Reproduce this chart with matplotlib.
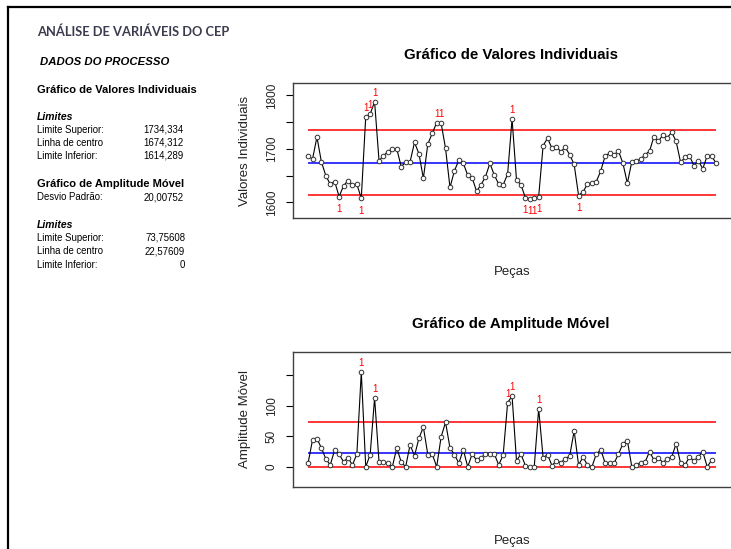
import numpy as np
import matplotlib
matplotlib.use('Agg')
import matplotlib.pyplot as plt
from matplotlib.lines import Line2D

plt.rcParams['font.family'] = ['Liberation Sans', 'DejaVu Sans']

# individual values (93 pieces)
valores = [1687, 1681, 1722, 1676, 1650, 1634, 1639, 1611, 1631, 1641,
           1633, 1634, 1608, 1760, 1765, 1788, 1678, 1687, 1695, 1700,
           1700, 1667, 1675, 1676, 1712, 1691, 1645, 1709, 1729, 1749,
           1748, 1701, 1628, 1659, 1679, 1673, 1651, 1646, 1621, 1633,
           1648, 1673, 1651, 1634, 1633, 1653, 1756, 1642, 1633, 1609,
           1607, 1608, 1611, 1706, 1720, 1701, 1704, 1695, 1703, 1689,
           1671, 1613, 1620, 1634, 1637, 1639, 1659, 1687, 1692, 1689,
           1696, 1673, 1636, 1676, 1677, 1681, 1689, 1696, 1723, 1714,
           1726, 1721, 1731, 1714, 1675, 1684, 1687, 1669, 1678, 1663,
           1687, 1687, 1673]

# moving ranges (92 values)
amplitudes = [6, 44, 46, 31, 13, 3, 28, 21, 8, 15, 3, 21, 155,
              0, 20, 113, 8, 8, 6, 0,
              31, 8, 0, 36, 18, 47, 65, 20, 21, 0,
              49, 73, 31, 20, 6, 28, 0, 21, 11, 15,
              21, 21, 21, 3, 20,
              105, 116, 10, 21, 2, 0, 0, 95,
              15, 20, 2, 10, 7, 13, 18,
              59, 3, 16, 3, 0, 21, 28, 6, 6, 6,
              21, 38, 43, 0, 3, 7, 8, 25, 11, 15,
              7, 13, 16, 38, 6, 3, 16, 10, 16, 25, 0, 11]

lsc_i, lc_i, lic_i = 1734.334, 1674.312, 1614.289
lsc_mr, lc_mr, lic_mr = 73.75608, 22.57609, 0

W, H = 731, 549
fig = plt.figure(figsize=(W / 100, H / 100), dpi=100)


def fx(x):
    return x / W


def fy(y):
    return 1 - y / H


# frame lines of the report
fig.add_artist(Line2D([fx(8), fx(8)], [fy(7), 0], color='black', lw=1.6))
fig.add_artist(Line2D([fx(8), 1], [fy(7), fy(7)], color='black', lw=1.6))

# left text panel
fig.text(fx(37), fy(32), 'ANÁLISE DE VARIÁVEIS DO CEP', fontsize=9.3,
         fontweight='bold', color='#3c3c50', va='center', family='Lato')
fig.text(fx(40), fy(62), 'DADOS DO PROCESSO', fontsize=8.2, fontweight='bold',
         style='italic', va='center')
fig.text(fx(37), fy(90), 'Gráfico de Valores Individuais', fontsize=8,
         fontweight='bold', va='center')
fig.text(fx(37), fy(117), 'Limites', fontsize=7.5, fontweight='bold',
         style='italic', va='center')
linhas1 = [('Limite Superior:', '1734,334'), ('Linha de centro', '1674,312'),
           ('Limite Inferior:', '1614,289')]
for i, (a, b) in enumerate(linhas1):
    fig.text(fx(37), fy(130 + i * 13), a, fontsize=6.9, va='center')
    fig.text(fx(184), fy(130 + i * 13), b, fontsize=6.9, va='center', ha='right')
fig.text(fx(37), fy(184), 'Gráfico de Amplitude Móvel', fontsize=8,
         fontweight='bold', va='center')
fig.text(fx(37), fy(197), 'Desvio Padrão:', fontsize=6.9, va='center')
fig.text(fx(184), fy(197), '20,00752', fontsize=6.9, va='center', ha='right')
fig.text(fx(37), fy(225), 'Limites', fontsize=7.5, fontweight='bold',
         style='italic', va='center')
linhas2 = [('Limite Superior:', '73,75608'), ('Linha de centro', '22,57609'),
           ('Limite Inferior:', '0')]
for i, (a, b) in enumerate(linhas2):
    fig.text(fx(37), fy(238 + i * 13.5), a, fontsize=6.9, va='center')
    fig.text(fx(185), fy(238 + i * 13.5), b, fontsize=6.9, va='center', ha='right')


def carta(top, bottom, dados, lsc, lc, lic, ylim, ticks, rotulos,
          titulo, ylabel):
    ax = fig.add_axes([fx(293), fy(bottom), (740 - 293) / W, (bottom - top) / H])
    n = len(dados)
    xs = np.arange(1, n + 1)
    ax.hlines([lsc, lic], 1, 93, color='red', lw=1.1)
    ax.hlines(lc, 1, 93, color='blue', lw=1.1)
    ax.plot(xs, dados, color='black', lw=0.8, marker='o', ms=3.3,
            mfc='white', mec='#303030', mew=0.7)
    for x, v in zip(xs, dados):
        if v > lsc:
            ax.annotate('1', (x, v), xytext=(0, 6.5), textcoords='offset points',
                        ha='center', va='center', color='red', fontsize=7)
        elif v < lic:
            ax.annotate('1', (x, v), xytext=(0, -9), textcoords='offset points',
                        ha='center', va='center', color='red', fontsize=7)
    ax.set_xlim(-2.4, 98.4)
    ax.set_ylim(*ylim)
    ax.set_xticks([])
    ax.set_yticks(ticks)
    ax.set_yticklabels(rotulos, rotation=90, va='center', fontsize=8.5,
                       color='#222222')
    ax.tick_params(axis='y', direction='out', length=5, width=0.8, pad=6)
    for s in ax.spines.values():
        s.set_color('#404040')
        s.set_linewidth(1.0)
    ax.set_ylabel(ylabel, fontsize=9.5, color='#222222')
    ax.yaxis.set_label_coords(-0.094, 0.5)
    ax.text(0.488, 1 + 28 / (bottom - top), titulo, transform=ax.transAxes,
            ha='center', va='center', fontsize=10.8, fontweight='bold')
    ax.text(0.49, -54 / (bottom - top), 'Peças', transform=ax.transAxes,
            ha='center', va='center', fontsize=9.5, color='#222222')
    return ax


carta(83, 218, valores, lsc_i, lc_i, lic_i, (1571, 1823),
      [1600, 1650, 1700, 1750, 1800], ['1600', '', '1700', '', '1800'],
      'Gráfico de Valores Individuais', 'Valores Individuais')
carta(352, 487, amplitudes, lsc_mr, lc_mr, lic_mr, (-33, 188),
      [0, 50, 100, 150], ['0', '50', '100', ''],
      'Gráfico de Amplitude Móvel', 'Amplitude Móvel')

fig.savefig('out.png', dpi=100)
